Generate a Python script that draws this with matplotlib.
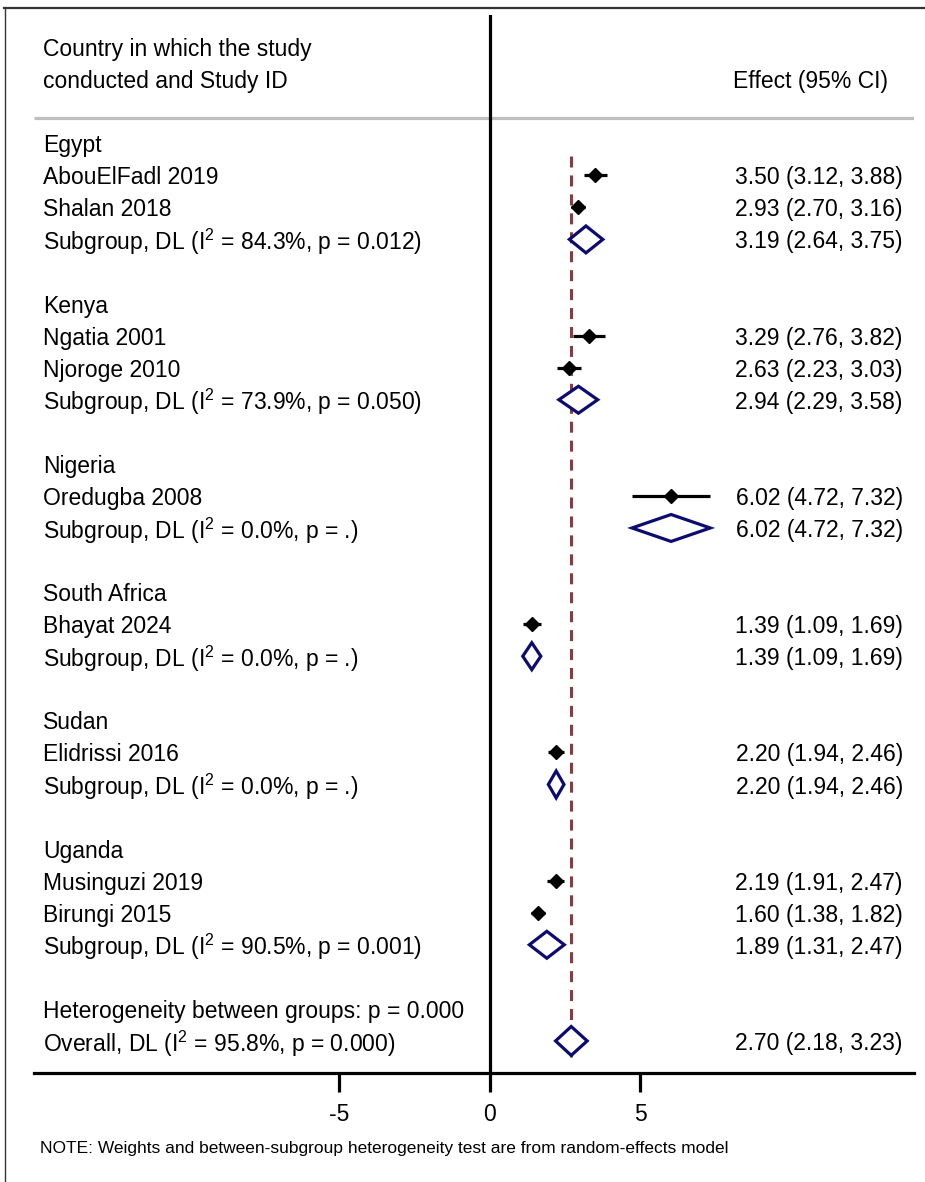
import matplotlib.pyplot as plt
from matplotlib.lines import Line2D
from matplotlib.patches import Polygon

plt.rcParams['font.family'] = ['Liberation Sans', 'DejaVu Sans']
plt.rcParams['mathtext.fontset'] = 'custom'
plt.rcParams['mathtext.rm'] = 'Liberation Sans'
plt.rcParams['mathtext.it'] = 'Liberation Sans'

# study level estimates, grouped by country
countries = ['Egypt', 'Kenya', 'Nigeria', 'South Africa', 'Sudan', 'Uganda']
study_names = [['AbouElFadl 2019', 'Shalan 2018'],
               ['Ngatia 2001', 'Njoroge 2010'],
               ['Oredugba 2008'],
               ['Bhayat 2024'],
               ['Elidrissi 2016'],
               ['Musinguzi 2019', 'Birungi 2015']]
study_est = [[3.50, 2.93], [3.29, 2.63], [6.02], [1.39], [2.20], [2.19, 1.60]]
study_lo = [[3.12, 2.70], [2.76, 2.23], [4.72], [1.09], [1.94], [1.91, 1.38]]
study_hi = [[3.88, 3.16], [3.82, 3.03], [7.32], [1.69], [2.46], [2.47, 1.82]]

# pooled (DerSimonian-Laird) subgroup estimates
sub_est = [3.19, 2.94, 6.02, 1.39, 2.20, 1.89]
sub_lo = [2.64, 2.29, 4.72, 1.09, 1.94, 1.31]
sub_hi = [3.75, 3.58, 7.32, 1.69, 2.46, 2.47]
sub_i2 = ['84.3', '73.9', '0.0', '0.0', '0.0', '90.5']
sub_p = ['0.012', '0.050', '.', '.', '.', '0.001']

overall_est, overall_lo, overall_hi = 2.70, 2.18, 3.23
overall_i2, overall_p = '95.8', '0.000'
between_p = '0.000'

xticks = [-5, 0, 5]

FS = 16.5
NAVY = '#0b0b72'
MAROON = '#8b3a3e'
X_LABEL = -14.85   # left text column
X_EFFECT = 13.72   # right text column (right aligned)
DY = 0.08          # nudge text down onto the marker rows

fig = plt.figure(figsize=(9.25, 11.82), dpi=100)
ax = fig.add_axes([34 / 925, 1 - 1073 / 1182, 880 / 925, 1058 / 1182])
ax.set_xlim(-15.15, 14.09)
ax.set_ylim(29, -4)


def label(x, y, s, ha='left'):
    ax.text(x, y + DY, s, fontsize=FS, va='center', ha=ha)


def effect_text(e, lo, hi):
    return f'{e:.2f} ({lo:.2f}, {hi:.2f})'


def pooled_diamond(y, e, lo, hi, h):
    ax.add_patch(Polygon([(lo, y), (e, y - h), (hi, y), (e, y + h)],
                         closed=True, facecolor='white', edgecolor=NAVY,
                         linewidth=2.3, zorder=4))


row = 0
for g, country in enumerate(countries):
    label(X_LABEL, row, country)
    row += 1
    for name, e, lo, hi in zip(study_names[g], study_est[g],
                               study_lo[g], study_hi[g]):
        label(X_LABEL, row, name)
        ax.plot([lo, hi], [row, row], color='black', lw=2.3,
                solid_capstyle='butt', zorder=5)
        ax.plot(e, row, marker='D', ms=7.0, color='black', zorder=6)
        label(X_EFFECT, row, effect_text(e, lo, hi), ha='right')
        row += 1
    label(X_LABEL, row,
          f'Subgroup, DL (I$^{{2}}$ = {sub_i2[g]}%, p = {sub_p[g]})')
    pooled_diamond(row, sub_est[g], sub_lo[g], sub_hi[g], 0.42)
    label(X_EFFECT, row, effect_text(sub_est[g], sub_lo[g], sub_hi[g]),
          ha='right')
    row += 2

label(X_LABEL, row, f'Heterogeneity between groups: p = {between_p}')
row += 1
label(X_LABEL, row, f'Overall, DL (I$^{{2}}$ = {overall_i2}%, p = {overall_p})')
pooled_diamond(row, overall_est, overall_lo, overall_hi, 0.45)
label(X_EFFECT, row, effect_text(overall_est, overall_lo, overall_hi),
      ha='right')

# overall effect reference line
ax.plot([overall_est, overall_est], [0.4, row + 0.5], color=MAROON, lw=2.2,
        dashes=(3.6, 2.6), zorder=3)

# null line
ax.axvline(0, color='black', lw=2.3, zorder=2)

# column headers
label(X_LABEL, -3, 'Country in which the study')
label(X_LABEL, -2, 'conducted and Study ID')
label(13.22, -2, 'Effect (95% CI)', ha='right')
ax.plot([-15.15, 14.09], [-0.78, -0.78], color='#bebebe', lw=2.3,
        solid_capstyle='butt', zorder=1)

for side in ['top', 'left', 'right']:
    ax.spines[side].set_visible(False)
ax.spines['bottom'].set_linewidth(2.3)
ax.set_xticks(xticks)
ax.set_xticklabels([str(t) for t in xticks])
ax.tick_params(axis='x', direction='out', length=14, width=2.3,
               labelsize=FS, pad=7.5)
ax.set_yticks([])

fig.text(40 / 925, 1 - 1149 / 1182,
         'NOTE: Weights and between-subgroup heterogeneity test are from '
         'random-effects model', fontsize=12.5, va='center', ha='left')

# outer frame (top and left edges)
fig.add_artist(Line2D([4 / 925, 1], [1 - 7.5 / 1182, 1 - 7.5 / 1182],
                      color='#333333', lw=1.6))
fig.add_artist(Line2D([4.5 / 925, 4.5 / 925], [0, 1 - 7.5 / 1182],
                      color='#333333', lw=1.0))

fig.savefig('out.png', dpi=100)
